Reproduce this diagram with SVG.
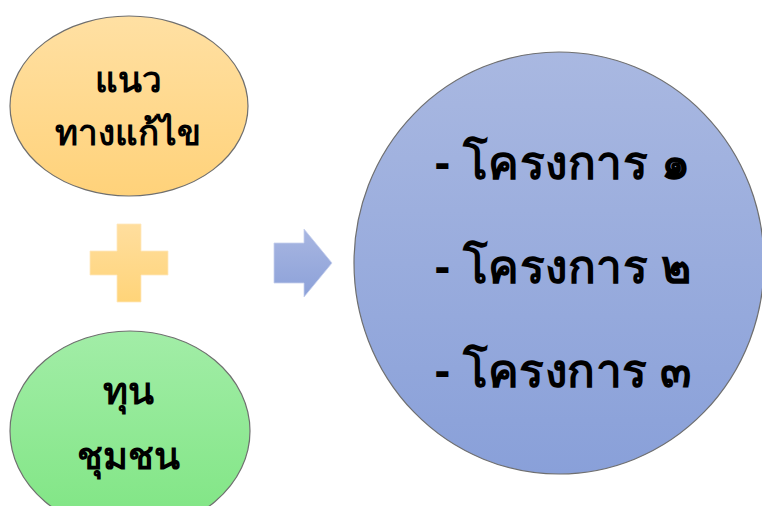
<svg xmlns="http://www.w3.org/2000/svg" width="762" height="506" viewBox="0 0 762 506">
  <defs>
    <linearGradient id="gOrange" x1="0" y1="0" x2="0" y2="1">
      <stop offset="0" stop-color="#FFE0A3"/>
      <stop offset="1" stop-color="#FFD27A"/>
    </linearGradient>
    <linearGradient id="gGreen" x1="0" y1="0" x2="0" y2="1">
      <stop offset="0" stop-color="#A2EDA7"/>
      <stop offset="1" stop-color="#7FE583"/>
    </linearGradient>
    <linearGradient id="gBlue" x1="0" y1="0" x2="0" y2="1">
      <stop offset="0" stop-color="#A9B8E1"/>
      <stop offset="1" stop-color="#89A0D9"/>
    </linearGradient>
    <linearGradient id="gPlus" x1="0" y1="0" x2="0" y2="1">
      <stop offset="0" stop-color="#FFDE9E"/>
      <stop offset="1" stop-color="#FFD479"/>
    </linearGradient>
    <linearGradient id="gArrow" x1="0" y1="0" x2="0" y2="1">
      <stop offset="0" stop-color="#A8B6E1"/>
      <stop offset="1" stop-color="#8CA1D9"/>
    </linearGradient>
  </defs>
  <style>
    .shape { stroke: #6f6f6f; stroke-width: 1.2; }
    .lbl { font-family: "Noto Sans", "DejaVu Sans", sans-serif; font-weight: bold; fill: #000; text-anchor: middle; }
    .proj { font-family: "Noto Sans", "DejaVu Sans", sans-serif; font-weight: bold; fill: #000; font-size: 46px; }
  </style>
  <rect width="762" height="506" fill="#ffffff"/>
  <g id="node-solution">
    <ellipse class="shape" cx="129" cy="106" rx="119" ry="90" fill="url(#gOrange)"/>
    <text class="lbl" x="128" y="92" font-size="35">แนว</text>
    <text class="lbl" x="128" y="145" font-size="35">ทางแก้ไข</text>
  </g>
  <g id="node-plus">
    <path d="M117,224 H141 V251 H168 V275 H141 V302 H117 V275 H90 V251 H117 Z" fill="url(#gPlus)" stroke="#FFE8BE" stroke-width="0.8"/>
  </g>
  <g id="node-capital">
    <ellipse class="shape" cx="130" cy="431" rx="120" ry="100" fill="url(#gGreen)"/>
    <text class="lbl" x="128" y="404" font-size="38">ทุน</text>
    <text class="lbl" x="128" y="469" font-size="38">ชุมชน</text>
  </g>
  <g id="connectors">
    <path d="M274,243 H304 V229 L332,263 L304,297 V283 H274 Z" fill="url(#gArrow)" stroke="#C6D0EE" stroke-width="0.8"/>
  </g>
  <g id="node-projects">
    <ellipse class="shape" cx="559" cy="263" rx="205" ry="211" fill="url(#gBlue)"/>
    <text class="proj" x="435" y="179" textLength="255" lengthAdjust="spacing">- โครงการ ๑</text>
    <text class="proj" x="435" y="283" textLength="256" lengthAdjust="spacing">- โครงการ ๒</text>
    <text class="proj" x="435" y="387" textLength="256" lengthAdjust="spacing">- โครงการ ๓</text>
  </g>
</svg>
